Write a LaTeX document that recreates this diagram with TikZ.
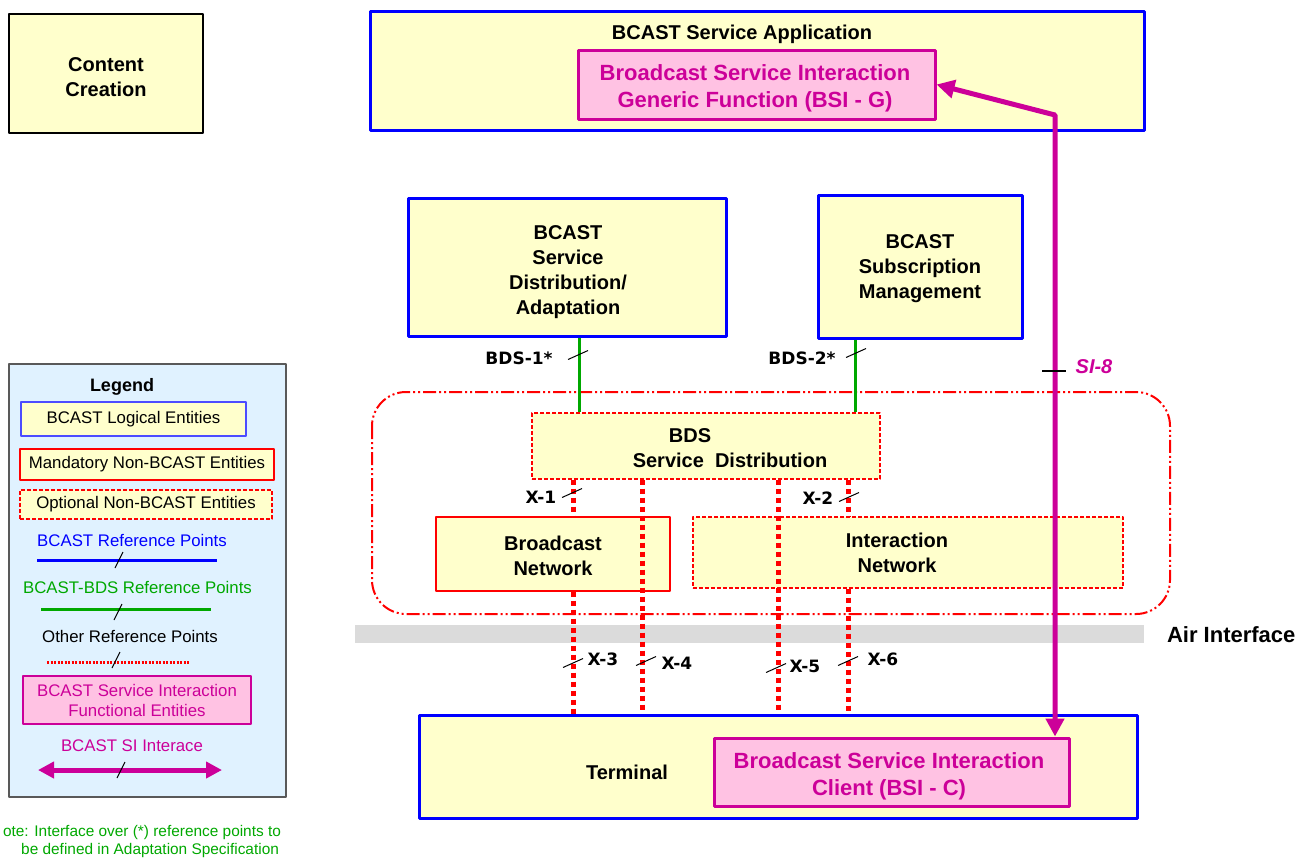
\documentclass[tikz,border=0pt]{standalone}
\usepackage{fontspec}
\setmainfont{Liberation Sans}
\newfontfamily\dejavu{DejaVu Sans}
\usetikzlibrary{arrows.meta}
\definecolor{ffffcc}{rgb}{1,1,0.8}
\definecolor{qqqqff}{rgb}{0,0,1}
\definecolor{wwwwff}{rgb}{0.3,0.3,1}
\definecolor{cczzaa}{rgb}{0.8,0,0.6}
\definecolor{ffccee}{rgb}{1,0.76,0.89}
\definecolor{ffqqqq}{rgb}{1,0,0}
\definecolor{qqaaqq}{rgb}{0,0.66,0}
\definecolor{eeffff}{rgb}{0.88,0.95,1}
\definecolor{dddddd}{rgb}{0.86,0.86,0.86}
\definecolor{uququq}{rgb}{0.35,0.35,0.35}
\newcommand{\reftick}[2]{\draw[line width=0.5pt,shift={(#1,#2)}] (-10,4.5) -- (10,-4.5);}
\newcommand{\legtick}[2]{\draw[line width=0.5pt,shift={(#1,#2)}] (-4,8) -- (4,-8);}

\begin{document}
\begin{tikzpicture}[line join=round,x=0.5pt,y=-0.5pt,
    bcbox/.style={draw=qqqqff,line width=1.5pt,fill=ffffcc,inner sep=0pt},
    sibox/.style={draw=cczzaa,line width=1.5pt,fill=ffccee,inner sep=0pt},
    mandbox/.style={draw=ffqqqq,line width=0.6pt,fill=ffffcc,inner sep=0pt},
    optbox/.style={mandbox,dash pattern=on 2pt off 1pt},
    boldtext/.style={font=\bfseries\fontsize{10}{12.5}\selectfont,align=center},
    sitext/.style={text=cczzaa,font=\bfseries\fontsize{11}{13.5}\selectfont,align=center},
    bdsline/.style={qqaaqq,line width=1.5pt},
    xline/.style={ffqqqq,line width=2.5pt,dash pattern=on 2.5pt off 2pt},
    siline/.style={cczzaa,line width=2.5pt,{Triangle[length=9pt,width=9pt]}-{Triangle[length=9pt,width=9pt]}},
    reflabel/.style={font=\dejavu\bfseries\fontsize{8.5}{9}\selectfont},
    legtext/.style={font=\fontsize{8.4}{10}\selectfont,align=center}]
    \useasboundingbox (0,0) rectangle (1299,858);
    % air interface band and BDS area
    \fill[dddddd] (355,625) rectangle (1144,643);
    \node[anchor=west,font=\bfseries\fontsize{11}{13}\selectfont] (air) at (1160,635) {Air Interface};
    \draw[ffqqqq,line width=1pt,rounded corners=17pt,dash pattern=on 6.5pt off 1.5pt on 1pt off 1.5pt on 1pt off 1.5pt] (372,392) rectangle (1170,614);
    % boxes
    \node[bcbox,draw=black,line width=0.75pt,minimum width=97pt,minimum height=59.5pt] (content) at (106,73.5) {};
    \node[boldtext] (contenttext) at (106,77.5) {Content\\Creation};
    \node[bcbox,minimum width=387pt,minimum height=59.5pt] (app) at (757,70.5) {};
    \node[boldtext] (apptitle) at (742,34) {BCAST Service Application};
    \node[sibox,minimum width=178.5pt,minimum height=34.5pt] (bsig) at (756.5,84.5) {};
    \node[sitext] (bsigtext) at (755,88) {Broadcast Service Interaction\\Generic Function (BSI - G)};
    \node[bcbox,minimum width=159pt,minimum height=69pt] (adapt) at (567,267) {};
    \node[boldtext] (adapttext) at (568,272) {BCAST\\Service\\Distribution/\\Adaptation};
    \node[bcbox,minimum width=102pt,minimum height=71.5pt] (subs) at (920,266.5) {};
    \node[boldtext] (substext) at (920,268.5) {BCAST\\Subscription\\Management};
    \node[optbox,minimum width=174pt,minimum height=33pt] (bds) at (706,446) {};
    \node[boldtext] (bdstitle) at (690,436) {BDS};
    \node[boldtext] (bdstext) at (730,460) {Service\ \ Distribution};
    \node[mandbox,minimum width=117pt,minimum height=37pt] (bnet) at (553,554) {};
    \node[boldtext] (bnettext) at (553,556) {Broadcast\\Network};
    \node[optbox,minimum width=215pt,minimum height=35.5pt] (inet) at (908,552.5) {};
    \node[boldtext] (inettext) at (897,553) {Interaction\\Network};
    \node[bcbox,minimum width=359pt,minimum height=51.5pt] (term) at (778,766.5) {};
    \node[boldtext] (termtext) at (627,772) {Terminal};
    \node[sibox,minimum width=177.5pt,minimum height=34pt] (bsic) at (891.5,772) {};
    \node[sitext] (bsictext) at (889,776) {Broadcast Service Interaction\\Client (BSI - C)};
    % reference points
    \coordinate (b1) at (579,0);
    \coordinate (b2) at (855,0);
    \coordinate (xa) at (573,0);
    \coordinate (xb) at (642,0);
    \coordinate (xc) at (778,0);
    \coordinate (xd) at (848,0);
    \coordinate (knee) at (1055,115);
    \draw[bdsline] (adapt.south -| b1) -- (bds.north -| b1);
    \draw[bdsline] (subs.south -| b2) -- (bds.north -| b2);
    \draw[xline] (bds.south -| xa) -- (bnet.north -| xa);
    \draw[xline] (bnet.south -| xa) -- (term.north -| xa);
    \draw[xline] (bds.south -| xb) -- (term.north -| xb);
    \draw[xline] (bds.south -| xc) -- (term.north -| xc);
    \draw[xline] (bds.south -| xd) -- (inet.north -| xd);
    \draw[xline] (inet.south -| xd) -- (term.north -| xd);
    \draw[siline] (bsic.north -| knee) -- (knee) -- (bsig.east);
    \reftick{578}{355}
    \reftick{856}{353}
    \reftick{572}{493}
    \reftick{849}{497}
    \reftick{573}{663}
    \reftick{646}{661}
    \reftick{776}{668}
    \reftick{848}{661}
    \draw[line width=0.6pt] (1042,371) -- (1066,371);
    \node[reflabel] (bds1) at (519,358) {BDS-1*};
    \node[reflabel] (bds2) at (802,358) {BDS-2*};
    \node[reflabel] (x1) at (541,497) {X-1};
    \node[reflabel] (x2) at (818,498) {X-2};
    \node[reflabel] (x3) at (603,659) {X-3};
    \node[reflabel] (x4) at (677,663) {X-4};
    \node[reflabel] (x5) at (805,666) {X-5};
    \node[reflabel] (x6) at (883,659) {X-6};
    \node[text=cczzaa,font=\bfseries\itshape\fontsize{10}{12}\selectfont] (si8) at (1094,367) {SI-8};
    % legend
    \node[draw=uququq,line width=0.75pt,fill=eeffff,minimum width=138.5pt,minimum height=216.5pt] (legend) at (147.5,580.5) {};
    \node[font=\bfseries\fontsize{9}{11}\selectfont] (legtitle) at (122,387) {Legend};
    \node[legtext,draw=wwwwff,line width=0.6pt,fill=ffffcc,minimum width=112.5pt,minimum height=17pt] (lg1) at (133.5,419) {BCAST Logical Entities};
    \node[legtext,draw=ffqqqq,line width=0.6pt,fill=ffffcc,minimum width=127pt,minimum height=15.5pt] (lg2) at (147,464.5) {Mandatory Non-BCAST Entities};
    \node[legtext,draw=ffqqqq,line width=0.6pt,dash pattern=on 2pt off 1pt,fill=ffffcc,minimum width=126pt,minimum height=14.5pt] (lg3) at (146,504.5) {Optional Non-BCAST Entities};
    \node[legtext,text=qqqqff] (lgblue) at (132,540) {BCAST Reference Points};
    \coordinate (bl1) at (37,560);
    \coordinate (bl2) at (217,560);
    \draw[qqqqff,line width=1.5pt] (bl1) -- (bl2);
    \legtick{119}{560}
    \node[legtext,text=qqaaqq] (lggreen) at (137.5,587) {BCAST-BDS Reference Points};
    \coordinate (gl1) at (41,609);
    \coordinate (gl2) at (211,609);
    \draw[qqaaqq,line width=1.5pt] (gl1) -- (gl2);
    \legtick{118}{612}
    \node[legtext] (lgother) at (130,636) {Other Reference Points};
    \coordinate (rl1) at (47,662);
    \coordinate (rl2) at (189,662);
    \draw[ffqqqq,line width=1.5pt,dash pattern=on 1pt off 0.75pt] (rl1) -- (rl2);
    \legtick{116}{660}
    \node[legtext,draw=cczzaa,line width=1.2pt,fill=ffccee,text=cczzaa,minimum width=114pt,minimum height=24pt] (lg4) at (137,700) {BCAST Service Interaction\\Functional Entities};
    \node[legtext,text=cczzaa] (lgsi) at (132,746) {BCAST SI Interace};
    \coordinate (sl1) at (38,770);
    \coordinate (sl2) at (222,770);
    \draw[siline,{Triangle[length=8pt,width=8pt]}-{Triangle[length=8pt,width=8pt]}] (sl1) -- (sl2);
    \legtick{121}{770}
    % note
    \node[anchor=east,text=qqaaqq,font=\fontsize{7.7}{9.5}\selectfont] (note1) at (288,832) {ote: Interface over (*) reference points to};
    \node[anchor=east,text=qqaaqq,font=\fontsize{7.7}{9.5}\selectfont] (note2) at (286,850) {be defined in Adaptation Specification};
\end{tikzpicture}
\end{document}
